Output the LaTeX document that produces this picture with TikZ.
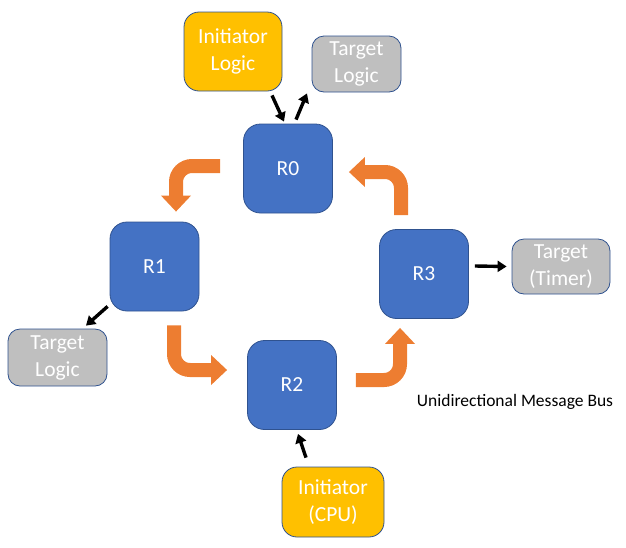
\documentclass[tikz,border=0pt]{standalone}
\usepackage{fontspec}
\setmainfont{Carlito}
\usepackage{xcolor}
\usepackage{tikz}
\usetikzlibrary{arrows.meta}

\definecolor{routerblue}{HTML}{4472C4}
\definecolor{edgeblue}{HTML}{2F528F}
\definecolor{busorange}{HTML}{ED7D31}
\definecolor{initgold}{HTML}{FFC000}
\definecolor{targetgray}{HTML}{BFBFBF}

\begin{document}
\begin{tikzpicture}[x=1pt, y=-1pt,
    box/.style={rectangle, draw=edgeblue, line width=0.8pt, text=white, align=center, inner sep=0pt, font=\fontsize{21.5}{27}\selectfont},
    router/.style={box, fill=routerblue, minimum width=89pt, minimum height=89pt, rounded corners=17pt},
    initiator/.style={box, fill=initgold, rounded corners=15pt},
    target/.style={box, fill=targetgray, rounded corners=12pt},
    link/.style={-{Triangle[width=11pt,length=9pt]}, line width=3.4pt, black},
    bus/.style={-{Triangle[width=29pt,length=16pt]}, line width=14pt, busorange, rounded corners=16pt}]

    \useasboundingbox (0,0) rectangle (626,547);

    % routers on the ring
    \node[router] (r0) at (288,168.5) {R0};
    \node[router] (r1) at (154.5,266.5) {R1};
    \node[router] (r2) at (292,385) {R2};
    \node[router] (r3) at (424,274) {R3};

    % logic hanging off the routers
    \node[initiator, minimum width=98pt, minimum height=79pt] (ilogic) at (233,51.5) {Initiator\\Logic};
    \node[target, minimum width=89pt, minimum height=56pt] (tlogic0) at (356.5,64) {Target\\Logic};
    \node[target, minimum width=99pt, minimum height=57pt] (tlogic1) at (57.5,357.5) {Target\\Logic};
    \node[target, minimum width=98pt, minimum height=55pt] (timer) at (561,266.5) {Target\\(Timer)};
    \node[initiator, minimum width=102pt, minimum height=70pt] (cpu) at (333,502) {Initiator\\(CPU)};

    \node[font=\fontsize{17.5}{20}\selectfont] (buslabel) at (515,402) {Unidirectional Message Bus};

    % ring
    \draw[bus] ([shift={(-23,-2.5)}]r0.west) -| ([shift={(21.5,-10)}]r1.north);
    \draw[bus] ([shift={(19.5,14)}]r1.south) |- ([shift={(-20,-15)}]r2.west);
    \draw[bus] ([shift={(19,-5)}]r2.east) -| ([shift={(-24,9)}]r3.south);
    \draw[bus] ([shift={(-23,-14)}]r3.north) |- ([shift={(16,3.5)}]r0.east);

    % local ports
    \draw[link] ([shift={(39,4)}]ilogic.south) -- ([shift={(-4,-2)}]r0.north);
    \draw[link] ([shift={(8,-4)}]r0.north) -- ([shift={(-49.5,1)}]tlogic0.south);
    \draw[link] ([shift={(-2,-5)}]r1.south west) -- ([shift={(28.5,-3)}]tlogic1.north);
    \draw[link] ([shift={(6,-8)}]r3.east) -- ([shift={(-5,0)}]timer.west);
    \draw[link] ([shift={(-27,-9)}]cpu.north) -- ([shift={(6,4)}]r2.south);
\end{tikzpicture}
\end{document}
